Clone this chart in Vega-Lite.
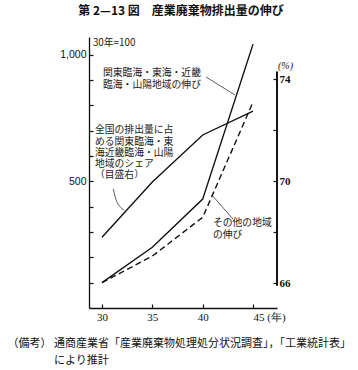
{
  "$schema": "https://vega.github.io/schema/vega-lite/v6.json",
  "width": 188,
  "height": 271,
  "autosize": {"type": "none"},
  "padding": {"left": 89, "top": 37, "right": 81, "bottom": 62},
  "background": "white",
  "title": {
    "text": "第 2—13 図　産業廃棄物排出量の伸び",
    "anchor": "middle",
    "font": "Noto Sans CJK JP",
    "fontSize": 12,
    "fontWeight": "bold",
    "color": "#111",
    "offset": 19,
    "dx": -2
  },
  "config": {
    "view": {"stroke": null},
    "axis": {
      "domainColor": "#111",
      "tickColor": "#111",
      "labelColor": "#111",
      "grid": false,
      "domainWidth": 1.3,
      "tickWidth": 1.2,
      "labelOverlap": false
    }
  },
  "datasets": {
    "series": [
      {"year": 30, "value": 100, "series": "A"},
      {"year": 35, "value": 240, "series": "A"},
      {"year": 40, "value": 430, "series": "A"},
      {"year": 45, "value": 1042, "series": "A"},
      {"year": 30, "value": 100, "series": "B"},
      {"year": 35, "value": 205, "series": "B"},
      {"year": 40, "value": 358, "series": "B"},
      {"year": 45, "value": 813, "series": "B"}
    ],
    "share": [
      {"year": 30, "share": 67.8},
      {"year": 35, "share": 69.97},
      {"year": 40, "share": 71.82},
      {"year": 45, "share": 72.76}
    ],
    "labels": [
      {"x": 29.1, "y": 1046, "text": "30年=100"},
      {"x": 30.1, "y": 928, "text": "関東臨海・東海・近畿"},
      {"x": 30.1, "y": 880, "text": "臨海・山陽地域の伸び"},
      {"x": 29.3, "y": 703, "text": "全国の排出量に占"},
      {"x": 29.3, "y": 657, "text": "める関東臨海・東"},
      {"x": 29.3, "y": 612, "text": "海近畿臨海・山陽"},
      {"x": 29.3, "y": 569, "text": "地域のシェア"},
      {"x": 29.3, "y": 525, "text": "（目盛右）"},
      {"x": 41.02, "y": 336, "text": "その他の地域"},
      {"x": 41.02, "y": 288, "text": "の伸び"}
    ],
    "leaders": [
      {"x": 40.33, "y": 912, "x2": 43.21, "y2": 841},
      {"x": 40.92, "y": 446, "x2": 43.01, "y2": 351}
    ],
    "curve": [
      {"x": 31.12, "y": 470, "o": 1},
      {"x": 31.46, "y": 421, "o": 2},
      {"x": 32.21, "y": 387, "o": 3}
    ]
  },
  "layer": [
    {
      "layer": [
        {
          "data": {"name": "series"},
          "transform": [{"filter": "datum.series == 'A'"}],
          "mark": {"type": "line", "color": "#111", "strokeWidth": 1.4},
          "encoding": {
            "x": {
              "field": "year",
              "type": "quantitative",
              "scale": {"domain": [28.71, 47.38], "nice": false, "zero": false},
              "axis": {
                "values": [30, 35, 40, 45],
                "tickSize": -4,
                "labelPadding": 7,
                "labelFont": "Liberation Serif",
                "labelFontSize": 11,
                "labelFlush": false,
                "labelExpr": "datum.value == 45 ? '45 (年)' : datum.label",
                "labelAlign": {"condition": {"test": "datum.value == 45", "value": "left"}, "value": "center"},
                "labelDx": {"condition": {"test": "datum.value == 45", "value": -6}, "value": 0},
                "title": ["（備考） 通商産業省「産業廃棄物処理処分状況調査」，「工業統計表」", "\u200b　　　　 により推計"],
                "titleFont": "Noto Sans CJK JP",
                "titleFontSize": 11,
                "titleFontWeight": "normal",
                "titleColor": "#111",
                "titleAnchor": "start",
                "titleAlign": "left",
                "titleBaseline": "middle",
                "titleX": -82,
                "titleY": 35,
                "titleLineHeight": 17
              }
            },
            "y": {
              "field": "value",
              "type": "quantitative",
              "scale": {"domain": [0, 1070], "nice": false},
              "axis": {
                "values": [500, 1000],
                "labelExpr": "datum.value == 1000 ? '1,000' : datum.label",
                "labelOverlap": false,
                "tickSize": -4,
                "labelPadding": 7,
                "labelFont": "Liberation Sans",
                "labelFontSize": 10.5,
                "title": null
              }
            }
          }
        },
        {
          "data": {"name": "labels"},
          "mark": {"type": "text", "align": "left", "baseline": "middle", "font": "Noto Sans CJK JP", "fontSize": 9.8, "color": "#222"},
          "encoding": {
            "x": {"field": "x", "type": "quantitative"},
            "y": {"field": "y", "type": "quantitative", "title": null},
            "text": {"field": "text"}
          }
        },
        {
          "data": {"name": "leaders"},
          "mark": {"type": "rule", "color": "#333", "strokeWidth": 0.8},
          "encoding": {
            "x": {"field": "x", "type": "quantitative"},
            "y": {"field": "y", "type": "quantitative", "title": null},
            "x2": {"field": "x2"},
            "y2": {"field": "y2"}
          }
        },
        {
          "data": {"name": "curve"},
          "mark": {"type": "line", "color": "#333", "strokeWidth": 0.8, "interpolate": "monotone"},
          "encoding": {
            "x": {"field": "x", "type": "quantitative"},
            "y": {"field": "y", "type": "quantitative", "title": null},
            "order": {"field": "o"}
          }
        }
      ]
    },
    {
      "data": {"name": "series"},
      "transform": [{"filter": "datum.series == 'B'"}],
      "mark": {"type": "line", "color": "#111", "strokeWidth": 1.4, "strokeDash": [6, 3.5]},
      "encoding": {
        "x": {"field": "year", "type": "quantitative"},
        "y": {
          "field": "value",
          "type": "quantitative",
          "scale": {"domain": [0, 1070], "nice": false},
          "axis": {
            "orient": "left",
            "values": [100, 200, 300, 400, 600, 700, 800, 900],
            "labels": false,
            "domain": false,
            "tickSize": -4,
            "title": null
          }
        }
      }
    },
    {
      "layer": [
        {
          "data": {"name": "share"},
          "mark": {"type": "line", "color": "#111", "strokeWidth": 1.4},
          "encoding": {
            "x": {"field": "year", "type": "quantitative"},
            "y": {
              "field": "share",
              "type": "quantitative",
              "scale": {"domain": [65.02, 75.67], "nice": false, "zero": false},
              "axis": {
                "orient": "right",
                "values": [66, 67, 68, 69, 70, 71, 72, 73, 74],
                "labelExpr": "datum.value == 66 || datum.value == 70 || datum.value == 74 ? datum.label : ''",
                "domain": false,
                "tickSize": -4,
                "labelPadding": 6,
                "labelFont": "Liberation Serif",
                "labelFontSize": 11,
                "labelFontWeight": "bold",
                "title": "(%)",
                "titleAngle": 0,
                "titleFont": "Liberation Serif",
                "titleFontSize": 10,
                "titleFontWeight": "normal",
                "titleFontStyle": "italic",
                "titleColor": "#222",
                "titleAlign": "center",
                "titleBaseline": "middle",
                "titleX": 8,
                "titleY": 28
              }
            }
          }
        },
        {
          "data": {"name": "share"},
          "mark": {"type": "rule", "color": "#111", "strokeWidth": 1.3},
          "encoding": {
            "x": {"datum": 47.38},
            "y": {"datum": 65.9},
            "y2": {"datum": 74.3}
          }
        }
      ]
    }
  ],
  "resolve": {"scale": {"y": "independent"}, "axis": {"y": "independent"}}
}
